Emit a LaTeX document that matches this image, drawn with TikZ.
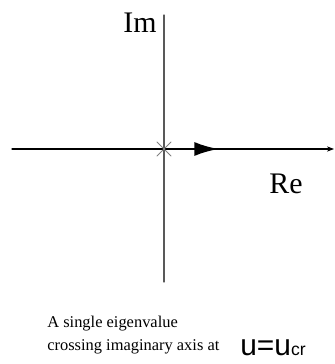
\documentclass[tikz,border=0pt]{standalone}
\usepackage{fontspec}
\setmainfont{Liberation Serif}
\newfontfamily\labfont{Liberation Sans}
\usetikzlibrary{arrows.meta,calc}

\begin{document}
\begin{tikzpicture}[x=0.02cm,y=-0.02cm,>={Stealth[length=4pt]},line cap=round]
\useasboundingbox (0,0) rectangle (334,364);
% axes
\coordinate (west) at (12,149);
\coordinate (east) at (334,149);
\coordinate (top) at (164,15);
\coordinate (bot) at (164,282);
\coordinate (orig) at (164,149);
\draw[->,line width=0.6pt] (west) -- (east);
\draw[gray!70!black,line width=0.6pt] (top) -- (bot);
% path of the eigenvalue
\coordinate (start) at (109,149);
\coordinate (tip) at (219,149);
\draw[-{Latex[length=14pt,width=8pt]},line width=1.7pt] (start) -- (tip);
\draw[gray,line width=0.5pt] ($(orig)+(-7,-7)$) -- ($(orig)+(7,7)$);
\draw[gray,line width=0.5pt] ($(orig)+(-7,7)$) -- ($(orig)+(7,-7)$);
% labels
\node (im) at (140,23) {\fontsize{17}{17}\selectfont Im};
\node (re) at (286,184) {\fontsize{17}{17}\selectfont Re};
\node[anchor=base west,align=left,inner sep=0pt,font=\fontsize{9.35}{12.6}\selectfont] (txt) at (47,350)
  {A single eigenvalue\\crossing imaginary axis at};
\node[anchor=base west,inner sep=0pt] (crit) at (240,355)
  {\labfont\fontsize{17}{17}\selectfont u=u{\fontsize{10}{10}\selectfont cr}};
\end{tikzpicture}
\end{document}
